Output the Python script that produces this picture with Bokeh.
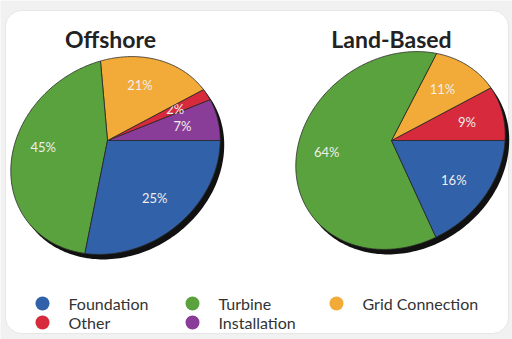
import numpy as np
from bokeh.plotting import figure
from bokeh.models import Range1d
from bokeh.core.properties import value
from bokeh.embed import file_html
from bokeh.resources import INLINE

# ---------------- data ----------------
titles = ["Offshore", "Land-Based"]
offshore_labels = ["Installation", "Other", "Grid Connection", "Turbine", "Foundation"]
offshore_values = [7, 2, 21, 45, 25]
land_labels = ["Other", "Grid Connection", "Turbine", "Foundation"]
land_values = [9, 11, 64, 16]
legend_labels = ["Foundation", "Turbine", "Grid Connection", "Other", "Installation"]

palette = {
    "Foundation": "#3161a8",
    "Turbine": "#5aa23d",
    "Grid Connection": "#f2aa38",
    "Other": "#d72a3c",
    "Installation": "#8a3d98",
}

W, H = 512, 339

p = figure(width=W, height=H, x_range=Range1d(0, W), y_range=Range1d(0, H),
           output_backend="svg", toolbar_location=None, min_border=0)
p.axis.visible = False
p.grid.visible = False
p.outline_line_color = None
p.background_fill_color = "#f1f1f1"
p.border_fill_color = "#f1f1f1"

def Y(ys):
    return H - np.asarray(ys, dtype=float)

# card
p.quad(left=5, right=508, bottom=H - 333, top=H - 10, fill_color="white",
       line_color="#e6e6e6", line_width=1, border_radius=16)

def psi_of(theta):
    # perspective-like angular distortion (degrees)
    return theta - 16.0 * np.sin(np.radians(theta) / 2.0)

def ray_len(A, C, a, b, alpha, psi):
    ca, sa = np.cos(alpha), np.sin(alpha)
    px, py = A[0] - C[0], A[1] - C[1]
    dx, dy = np.cos(psi), np.sin(psi)
    u0, v0 = px * ca + py * sa, -px * sa + py * ca
    du, dv = dx * ca + dy * sa, -dx * sa + dy * ca
    qa = du**2 / a**2 + dv**2 / b**2
    qb = 2 * (u0 * du / a**2 + v0 * dv / b**2)
    qc = u0**2 / a**2 + v0**2 / b**2 - 1
    return (-qb + np.sqrt(qb**2 - 4 * qa * qc)) / (2 * qa)

def draw_pie(names, vals, apex_s, center_s, a=110.0, b=93.0, alpha_deg=35.0):
    A = (apex_s[0], H - apex_s[1])
    C = (center_s[0], H - center_s[1])
    al = np.radians(alpha_deg)
    # shadow
    t = np.linspace(0, 2 * np.pi, 240)
    ex = C[0] + a * np.cos(t) * np.cos(al) - b * np.sin(t) * np.sin(al)
    ey = C[1] + a * np.cos(t) * np.sin(al) + b * np.sin(t) * np.cos(al)
    p.patch(ex + 4, ey - 5, fill_color="#111111", line_color=None)
    total = float(sum(vals))
    cum = 0.0
    for name, v in zip(names, vals):
        th0 = 360.0 * cum / total
        th1 = 360.0 * (cum + v) / total
        cum += v
        ps = np.radians(np.linspace(psi_of(th0), psi_of(th1), max(3, int(abs(th1 - th0)) + 2)))
        r = ray_len(A, C, a, b, al, ps)
        xs = np.concatenate([[A[0]], A[0] + r * np.cos(ps)])
        ys = np.concatenate([[A[1]], A[1] + r * np.sin(ps)])
        p.patch(xs, ys, fill_color=palette[name], line_color="#2a2a2a", line_width=0.8)
        # label at centroid direction
        cx, cy = xs.mean(), ys.mean()
        ang = np.arctan2(cy - A[1], cx - A[0])
        if v < 15:
            ang = np.radians((psi_of(th0) + psi_of(th1)) / 2)
        rl = ray_len(A, C, a, b, al, ang)
        lx = A[0] + 0.68 * rl * np.cos(ang)
        ly = A[1] + 0.68 * rl * np.sin(ang)
        p.text([lx], [ly], text=[f"{v}%"], text_font=value("Lato"), text_font_size="13px",
               text_color="#eeeeee", text_align="center", text_baseline="middle")

draw_pie(offshore_labels, offshore_values, (107, 140), (115, 155))
draw_pie(land_labels, land_values, (391, 140), (400, 150))

# titles
p.text([110, 391], Y([38, 38]), text=titles, text_font=value("Lato"), text_font_size="23px",
       text_font_style="bold", text_color="#222222", text_align="center", text_baseline="middle")

# legend
leg_x = [42, 192, 336, 42, 192]
leg_y = [303, 303, 303, 322, 322]
p.scatter(leg_x, Y(leg_y), marker="circle", size=14,
          fill_color=[palette[n] for n in legend_labels], line_color=None)
p.text([x + 26 for x in leg_x], Y(leg_y), text=legend_labels, text_font=value("Lato"),
       text_font_size="16px", text_color="#333333", text_align="left", text_baseline="middle")

open("out.html", "w").write(file_html(p, INLINE))
